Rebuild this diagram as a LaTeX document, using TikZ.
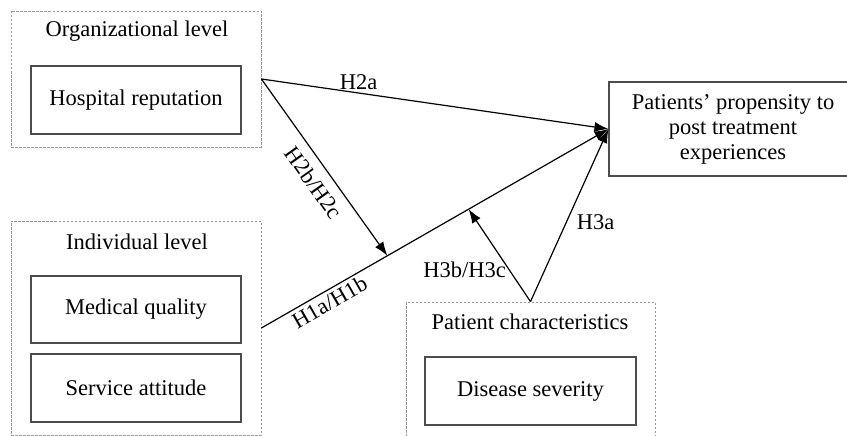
\documentclass[tikz,border=0pt]{standalone}
\usepackage{fontspec}
\setmainfont{Liberation Serif}
\usetikzlibrary{arrows.meta,calc}

\tikzset{
  level/.style={draw=black!40, dash pattern=on 2.5pt off 1.5pt, line width=0.8pt, minimum width=250pt},
  factor/.style={draw=black!70, line width=1.1pt, minimum width=210pt, minimum height=68pt},
  hyp/.style={->, >={Latex[length=14pt,width=10pt]}, line width=1.2pt},
}

\begin{document}
\begin{tikzpicture}[x=1pt, y=-1pt, font=\fontsize{22.5}{25}\selectfont, inner sep=3pt]
  \clip (0,0) rectangle (847,436);
  \fill[white] (0,0) rectangle (847,436);

  % organizational level
  \node[level, minimum height=136pt] (org) at (136,79) {};
  \node (orgtitle) at (137,31) {Organizational level};
  \node[factor] (rep) at (136,100) {Hospital reputation};

  % individual level
  \node[level, minimum height=214pt] (ind) at (136,328) {};
  \node (indtitle) at (137,242) {Individual level};
  \node[factor, minimum height=67pt] (med) at (136,309.5) {Medical quality};
  \node[factor] (serv) at (136,388) {Service attitude};

  % patient characteristics
  \node[level, minimum width=249pt, minimum height=150pt] (pat) at (530.5,377) {};
  \node (pattitle) at (530,322) {Patient characteristics};
  \node[factor, minimum width=211pt] (sev) at (530.5,391) {Disease severity};

  % outcome
  \node[factor, minimum width=248pt, minimum height=94pt, align=center] (out) at (733,129)
    {Patients' propensity to\\post treatment\\experiences};

  % hypotheses
  \draw[hyp] (org.east) -- node[above, pos=0.28] {H2a} (out.west);
  \draw[hyp] (ind.east) -- node[sloped, below, pos=0.18] {H1a/H1b} (out.west);
  \coordinate (mod1) at ($(ind.east)!0.363!(out.west)$);
  \coordinate (mod2) at ($(ind.east)!0.597!(out.west)$);
  \draw[hyp] (org.east) -- node[sloped, below=6pt, pos=0.53] {H2b/H2c} (mod1);
  \draw[hyp] (pat.north) -- node[right=7pt, pos=0.46] {H3a} (out.west);
  \draw[hyp] (pat.north) -- node[left, pos=0.34] {H3b/H3c} (mod2);
\end{tikzpicture}
\end{document}
